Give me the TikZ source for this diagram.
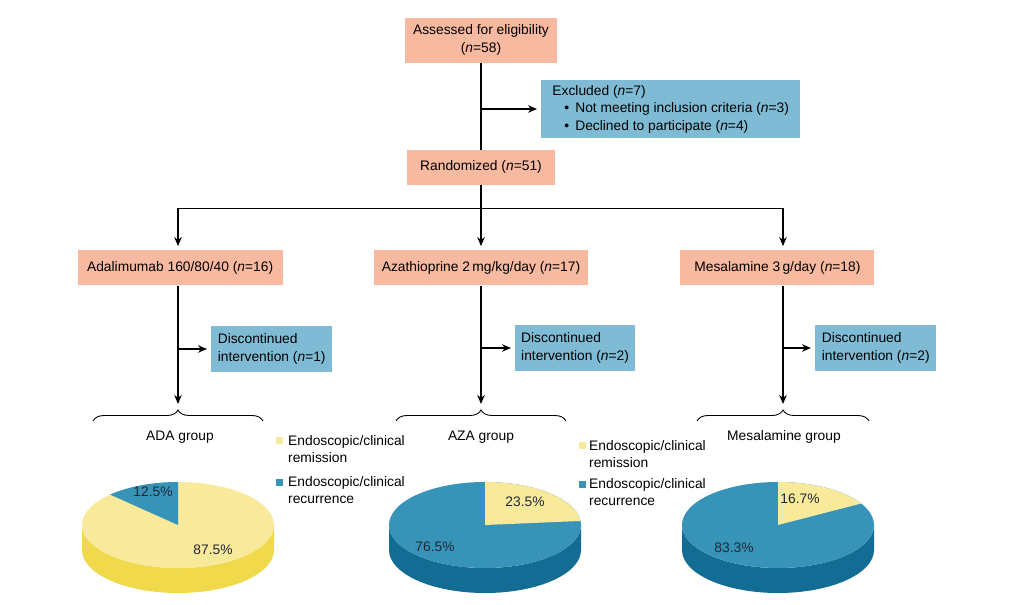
\documentclass[tikz,border=0pt]{standalone}
\usepackage{fontspec}
\setmainfont{Liberation Sans}
\usetikzlibrary{positioning,calc,decorations.pathreplacing,arrows.meta}

\definecolor{boxpink}{RGB}{247,185,160}
\definecolor{boxblue}{RGB}{127,187,212}
\definecolor{remyel}{RGB}{248,233,155}
\definecolor{remyeldark}{RGB}{240,218,75}
\definecolor{recblue}{RGB}{55,148,184}
\definecolor{recbluedark}{RGB}{18,108,147}
\definecolor{pcttext}{RGB}{30,40,55}

\begin{document}
\begin{tikzpicture}[
  x=1pt, y=1pt,
  font=\fontsize{13.8}{17.5}\selectfont,
  box/.style={inner xsep=6pt, inner ysep=3pt},
  pink/.style={box, fill=boxpink, minimum height=35pt, align=center},
  note/.style={box, fill=boxblue, align=left, anchor=west},
  arr/.style={-{Stealth[length=9pt,width=7.5pt]}, line width=1.2pt, shorten >=4pt},
  link/.style={line width=1.2pt},
  grp/.style={decorate, decoration={brace, amplitude=11pt}, line width=0.9pt},
  pct/.style={text=pcttext}
]
\useasboundingbox (0,0) rectangle (1023,-605);

% Enrolment
\node[pink, minimum width=152pt, minimum height=45pt] (assessed) at (481,-40)
  {Assessed for eligibility\\(\textit{n}=58)};
\node[pink, minimum width=148pt, below=87pt of assessed] (randomized)
  {Randomized (\textit{n}=51)};
\node[note, minimum width=259pt, minimum height=58pt, inner xsep=9pt] (excluded) at (541,-109)
  {Excluded (\textit{n}=7)\\
   \hspace*{12pt}\textbullet\hspace{6pt}Not meeting inclusion criteria (\textit{n}=3)\\
   \hspace*{12pt}\textbullet\hspace{6pt}Declined to participate (\textit{n}=4)};

% Arms
\node[pink, minimum width=214pt, below=65pt of randomized] (aza)
  {Azathioprine 2\,mg/kg/day (\textit{n}=17)};
\node[pink, minimum width=205pt, left=91pt of aza] (ada)
  {Adalimumab 160/80/40 (\textit{n}=16)};
\node[pink, minimum width=194pt, right=92pt of aza] (mes)
  {Mesalamine 3\,g/day (\textit{n}=18)};

% Discontinued
\node[note, minimum width=121pt, minimum height=46pt] (adadisc) at (211,-349)
  {Discontinued\\intervention (\textit{n}=1)};
\node[note, minimum width=118pt, minimum height=46pt] (azadisc) at (515,-348)
  {Discontinued\\intervention (\textit{n}=2)};
\node[note, minimum width=121pt, minimum height=46pt] (mesdisc) at (815,-348)
  {Discontinued\\intervention (\textit{n}=2)};

\coordinate (adatip) at (178,-408);
\coordinate (azatip) at (481,-408);
\coordinate (mestip) at (783,-408);

% Arrows
\draw[link] (assessed) -- (randomized);
\draw[arr] (assessed.south |- excluded.west) -- (excluded.west);
\draw[arr] (randomized.south) -- ++(0,-23) -| (ada.north -| adatip);
\draw[arr] (randomized.south) -- ++(0,-23) -| (mes.north -| mestip);
\draw[arr] (randomized) -- (aza);
\draw[arr] (ada.south -| adatip) -- (adatip);
\draw[arr] (aza.south -| azatip) -- (azatip);
\draw[arr] (mes.south -| mestip) -- (mestip);
\draw[arr] (adadisc.west -| adatip) -- (adadisc.west);
\draw[arr] (azadisc.west -| azatip) -- (azadisc.west);
\draw[arr] (mesdisc.west -| mestip) -- (mesdisc.west);

% Groups
\draw[grp] ($(adatip)+(-85,-13)$) -- ($(adatip)+(85,-13)$);
\draw[grp] ($(azatip)+(-85,-13)$) -- ($(azatip)+(85,-13)$);
\draw[grp] ($(mestip)+(-86,-13)$) -- ($(mestip)+(86,-13)$);
\node (adagrp) at ($(adatip)+(2,-29)$) {ADA group};
\node (azagrp) at ($(azatip)+(0,-29)$) {AZA group};
\node (mesgrp) at ($(mestip)+(1,-29)$) {Mesalamine group};

% Legends
\node[fill=remyel, minimum size=7pt, inner sep=0pt] (remsq1) at (279,-440) {};
\node[fill=recblue, minimum size=7pt, inner sep=0pt] (recsq1) at (279,-482) {};
\node[anchor=north west, align=left, inner sep=3pt] (remtxt1) at (285,-432)
  {Endoscopic/clinical\\remission};
\node[anchor=north west, align=left, inner sep=3pt] (rectxt1) at (285,-473)
  {Endoscopic/clinical\\recurrence};
\node[fill=remyel, minimum size=7pt, inner sep=0pt] (remsq2) at (582,-445) {};
\node[fill=recblue, minimum size=7pt, inner sep=0pt] (recsq2) at (582,-484) {};
\node[anchor=north west, align=left, inner sep=3pt] (remtxt2) at (586,-437)
  {Endoscopic/clinical\\remission};
\node[anchor=north west, align=left, inner sep=3pt] (rectxt2) at (586,-475)
  {Endoscopic/clinical\\recurrence};

% ADA pie
\fill[remyeldark] (82,-525) -- ++(0,-25) arc[start angle=180, end angle=360, x radius=96, y radius=43]
  -- ++(0,25) arc[start angle=0, end angle=-180, x radius=96, y radius=43] -- cycle;
\fill[remyel] (178,-525) ellipse[x radius=96, y radius=43];
\fill[recblue] (178,-525) -- ++(0,43) arc[start angle=90, end angle=135, x radius=96, y radius=43] -- cycle;
\node[pct] (adarec) at (153,-492) {12.5\%};
\node[pct] (adarem) at (213,-550) {87.5\%};

% AZA pie
\fill[recbluedark] (389,-525) -- ++(0,-25) arc[start angle=180, end angle=360, x radius=96, y radius=43]
  -- ++(0,25) arc[start angle=0, end angle=-180, x radius=96, y radius=43] -- cycle;
\fill[recblue] (485,-525) ellipse[x radius=96, y radius=43];
\fill[remyel] (485,-525) -- ++(0,43) arc[start angle=90, end angle=5.4, x radius=96, y radius=43] -- cycle;
\node[pct] (azarem) at (525,-502) {23.5\%};
\node[pct] (azarec) at (435,-547) {76.5\%};

% Mesalamine pie
\fill[recbluedark] (682,-525) -- ++(0,-25) arc[start angle=180, end angle=360, x radius=96, y radius=43]
  -- ++(0,25) arc[start angle=0, end angle=-180, x radius=96, y radius=43] -- cycle;
\fill[recblue] (778,-525) ellipse[x radius=96, y radius=43];
\fill[remyel] (778,-525) -- ++(0,43) arc[start angle=90, end angle=30, x radius=96, y radius=43] -- cycle;
\node[pct] (mesrem) at (800,-499) {16.7\%};
\node[pct] (mesrec) at (734,-548) {83.3\%};
\end{tikzpicture}
\end{document}
